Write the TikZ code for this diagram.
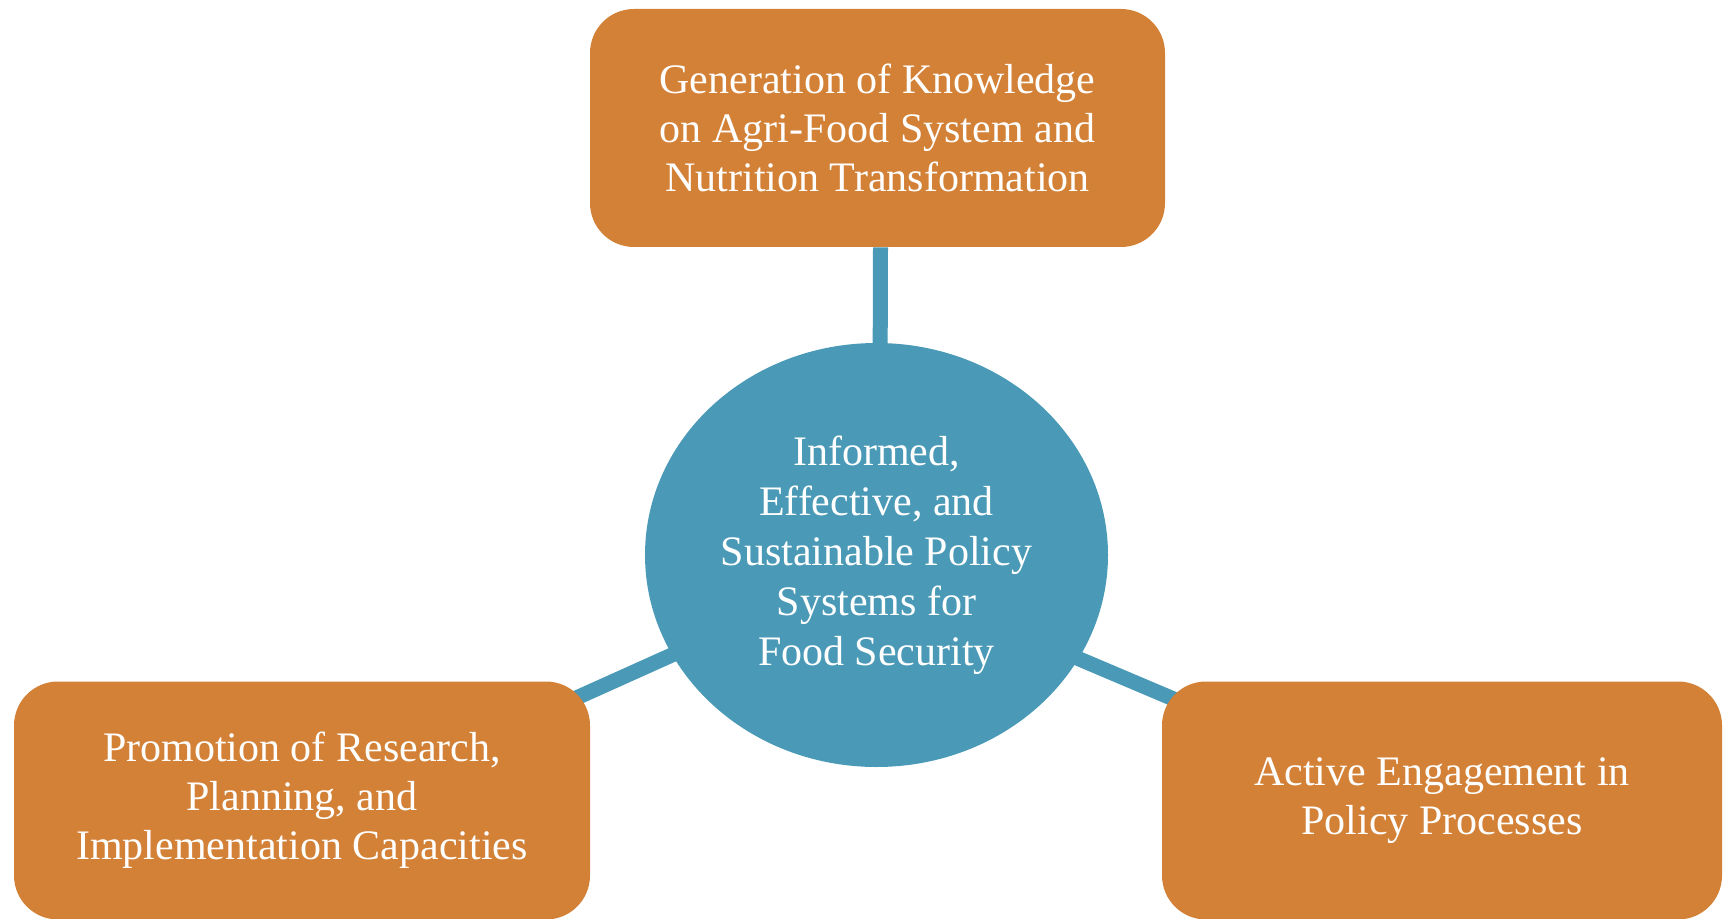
\documentclass[tikz,border=0pt]{standalone}
\usepackage{fontspec}
\setmainfont{Liberation Serif}
\usetikzlibrary{positioning,calc,shapes.geometric,backgrounds}
\definecolor{boxorange}{RGB}{211,129,55}
\definecolor{hubblue}{RGB}{74,154,183}
\tikzset{
  pillar/.style={rectangle,rounded corners=22pt,fill=boxorange,text=white,
    align=center,inner sep=0pt,font=\fontsize{21}{24.5}\selectfont},
  hub/.style={ellipse,fill=hubblue,text=white,align=center,inner sep=0pt,
    minimum width=231.5pt,minimum height=212pt,font=\fontsize{21}{25}\selectfont},
  link/.style={draw=hubblue,line width=7.5pt}
}

\begin{document}
\begin{tikzpicture}[x=0.5pt,y=-0.5pt]
\useasboundingbox (0,0) rectangle (1724,919);
\node[hub] (H) at (876.5,555) {Informed,\\Effective, and\\Sustainable Policy\\Systems for\\Food Security};
\node[pillar,minimum width=287.5pt,minimum height=119pt] (K) at (877.5,128) {Generation of Knowledge\\on Agri-Food System and\\Nutrition Transformation};
\node[pillar,minimum width=288pt,minimum height=119pt] (R) at (302,800.5) {Promotion of Research,\\Planning, and\\Implementation Capacities};
\node[pillar,minimum width=280pt,minimum height=119pt] (E) at (1442,800.5) {Active Engagement in\\Policy Processes};
\begin{scope}[on background layer]
\draw[link] (K.south) ++(3,0) -- ($(H.center)+(3,0)$);
\draw[link] ($(H.center)+(0,8)$) -- ($(R.north east)+(-50,33)$);
\draw[link] ($(H.center)+(0,18)$) -- ($(E.north west)+(50,34)$);
\end{scope}
\end{tikzpicture}
\end{document}
